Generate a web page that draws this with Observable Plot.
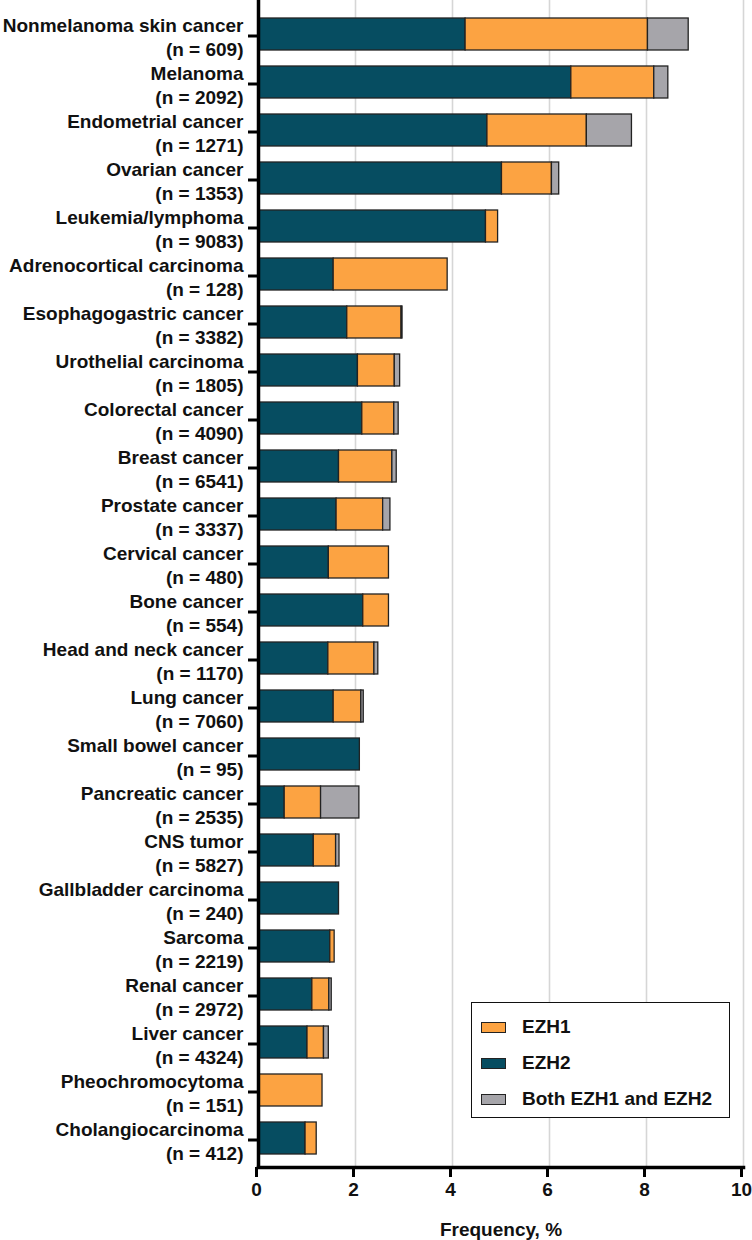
<!DOCTYPE html>
<html>
<head>
<meta charset="utf-8">
<script src="https://cdn.jsdelivr.net/npm/d3@7"></script>
<script src="https://cdn.jsdelivr.net/npm/@observablehq/plot@0.6"></script>
<style>
  html, body { margin: 0; padding: 0; background: #fff; }
  #wrap { position: relative; width: 752px; height: 1240px; font-family: "Liberation Sans", Arial, sans-serif; }
  #legend { position: absolute; left: 471px; top: 1002px; width: 259px; height: 116px; box-sizing: border-box;
            border: 1.5px solid #111; background: #fff; }
  .item { position: absolute; left: 9px; height: 24px; display: flex; align-items: center; }
  .sw { width: 25px; height: 11px; box-sizing: border-box; border: 1.5px solid #222; margin-right: 16px; }
  .lab { font-size: 19px; font-weight: bold; color: #111; }
</style>
</head>
<body>
<div id="wrap"></div>
<script>
// ---- data ----
const categories = [
  "Nonmelanoma skin cancer", "Melanoma", "Endometrial cancer", "Ovarian cancer",
  "Leukemia/lymphoma", "Adrenocortical carcinoma", "Esophagogastric cancer",
  "Urothelial carcinoma", "Colorectal cancer", "Breast cancer", "Prostate cancer",
  "Cervical cancer", "Bone cancer", "Head and neck cancer", "Lung cancer",
  "Small bowel cancer", "Pancreatic cancer", "CNS tumor", "Gallbladder carcinoma",
  "Sarcoma", "Renal cancer", "Liver cancer", "Pheochromocytoma", "Cholangiocarcinoma"
];
const sampleSizes = [609, 2092, 1271, 1353, 9083, 128, 3382, 1805, 4090, 6541, 3337,
  480, 554, 1170, 7060, 95, 2535, 5827, 240, 2219, 2972, 4324, 151, 412];
// segment values (frequency, %)
const ezh2Values = [4.27, 6.45, 4.72, 5.02, 4.69, 1.55, 1.83, 2.05, 2.14, 1.66, 1.61,
  1.45, 2.16, 1.44, 1.55, 2.09, 0.54, 1.14, 1.66, 1.48, 1.11, 1.01, 0, 0.97];
const ezh1Values = [3.76, 1.71, 2.05, 1.03, 0.25, 2.35, 1.12, 0.76, 0.66, 1.10, 0.96,
  1.24, 0.53, 0.95, 0.57, 0, 0.75, 0.46, 0, 0.09, 0.35, 0.34, 1.32, 0.23];
const bothValues = [0.84, 0.29, 0.93, 0.15, 0, 0, 0.02, 0.11, 0.09, 0.09, 0.15,
  0, 0, 0.08, 0.05, 0, 0.79, 0.07, 0, 0, 0.05, 0.10, 0, 0];
const seriesNames = ["EZH2", "EZH1", "Both EZH1 and EZH2"];
const legendOrder = ["EZH1", "EZH2", "Both EZH1 and EZH2"];
const seriesColors = ["#064d61", "#fca342", "#a6a5aa"];
const xTicks = [0, 2, 4, 6, 8, 10];
const gridTicks = [2, 4, 6, 8, 10];
const xLabel = "Frequency, %";

// ---- build table ----
const seriesValues = [ezh2Values, ezh1Values, bothValues];
const rows = [];
categories.forEach((c, i) => {
  seriesNames.forEach((s, j) => {
    const v = seriesValues[j][i];
    if (v > 0) rows.push({category: c, series: s, value: v});
  });
});
const nOf = new Map(categories.map((c, i) => [c, sampleSizes[i]]));
const colorOf = new Map(seriesNames.map((s, i) => [s, seriesColors[i]]));

const chart = Plot.plot({
  width: 752,
  height: 1240,
  marginLeft: 258,
  marginRight: 9,
  marginTop: 0,
  marginBottom: 73,
  style: {fontFamily: "'Liberation Sans', Arial, sans-serif", fontSize: "19px", fontWeight: "bold", color: "#111", background: "#fff"},
  x: {domain: [0, 10], ticks: xTicks},
  y: {domain: categories, range: [9.5, 1161.5], paddingInner: 0.34, paddingOuter: 0.17},
  color: {domain: seriesNames, range: seriesColors},
  marks: [
    Plot.gridX(gridTicks, {stroke: "#d6d6d6", strokeOpacity: 1, strokeWidth: 1.6}),
    Plot.barX(rows, {x: "value", y: "category", fill: "series", order: seriesNames,
      stroke: "#222", strokeWidth: 1.3}),
    Plot.ruleX([0], {stroke: "#000", strokeWidth: 3.5}),
    Plot.frame({anchor: "bottom", stroke: "#000", strokeWidth: 3.5}),
    Plot.axisY({
      tickSize: 10, tickPadding: 5, strokeWidth: 3, stroke: "#000",
      fontSize: 19, fontWeight: "bold", lineHeight: 1.26, dy: 1.5,
      tickFormat: d => `${d}\n(n = ${nOf.get(d)})`,
      label: null
    }),
    Plot.axisX(xTicks, {
      tickSize: 10, tickPadding: 5, strokeWidth: 3, stroke: "#000",
      fontSize: 19, fontWeight: "bold", dx: -2,
      label: xLabel, labelAnchor: "center", labelArrow: "none", labelOffset: 68
    })
  ]
});

const wrap = document.getElementById("wrap");
wrap.appendChild(chart);

// legend
const legend = document.createElement("div");
legend.id = "legend";
legendOrder.forEach((s, i) => {
  const it = document.createElement("div");
  it.className = "item";
  it.style.top = (12 + i * 36) + "px";
  const sw = document.createElement("div");
  sw.className = "sw";
  sw.style.background = colorOf.get(s);
  const lab = document.createElement("span");
  lab.className = "lab";
  lab.textContent = s;
  it.appendChild(sw);
  it.appendChild(lab);
  legend.appendChild(it);
});
wrap.appendChild(legend);
</script>
</body>
</html>
